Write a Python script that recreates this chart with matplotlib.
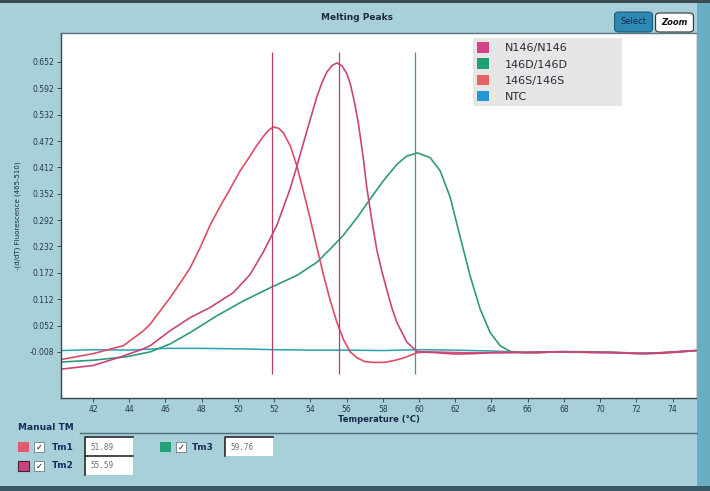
import matplotlib
matplotlib.use("Agg")
import matplotlib.pyplot as plt
from matplotlib.patches import Rectangle, FancyBboxPatch, Patch
from matplotlib.lines import Line2D

# ---------------- data ----------------
temp_146S = [40.3, 42.0, 43.67, 44.78, 45.15, 45.7, 46.25, 46.8, 47.36, 47.9, 48.46, 49.0, 49.57,
             50.12, 50.67, 51.04, 51.41, 51.7, 51.96, 52.25, 52.51, 52.9, 53.25, 53.6, 53.99,
             54.36, 54.72, 55.09, 55.46, 55.83, 56.2, 56.6, 57.0, 57.5, 58.04, 58.6, 59.14,
             59.88, 60.5, 61.5, 62.5, 63.5, 64.5, 65.5, 66.5, 67.5, 68.5, 69.5, 70.5, 71.5,
             72.5, 73.5, 74.5, 75.3]
vals_146S = [-0.025, -0.012, 0.006, 0.040, 0.055, 0.085, 0.115, 0.148, 0.183, 0.228, 0.280, 0.322,
             0.363, 0.404, 0.438, 0.462, 0.483, 0.497, 0.504, 0.501, 0.491, 0.460, 0.416, 0.360,
             0.295, 0.230, 0.168, 0.110, 0.060, 0.020, -0.008, -0.022, -0.030, -0.032, -0.032,
             -0.028, -0.022, -0.010, -0.008, -0.009, -0.010, -0.010, -0.009, -0.009, -0.010,
             -0.008, -0.008, -0.009, -0.009, -0.010, -0.012, -0.011, -0.008, -0.005]

temp_N146 = [40.3, 42.0, 43.49, 44.78, 45.15, 46.25, 47.36, 48.46, 49.75, 50.67, 51.41, 52.15,
             52.88, 53.25, 53.62, 54.0, 54.36, 54.65, 54.91, 55.2, 55.46, 55.75, 56.01, 56.2,
             56.43, 56.66, 56.9, 57.12, 57.4, 57.67, 57.95, 58.22, 58.5, 58.78, 59.33, 59.88,
             60.5, 61.0, 62.0, 63.0, 64.0, 65.0, 66.0, 67.0, 68.0, 69.0, 70.0, 71.0, 72.0,
             73.0, 74.0, 75.3]
vals_N146 = [-0.047, -0.039, -0.020, -0.001, 0.006, 0.040, 0.070, 0.093, 0.127, 0.168, 0.220, 0.280,
             0.363, 0.414, 0.468, 0.522, 0.573, 0.606, 0.629, 0.644, 0.650, 0.643, 0.626, 0.603,
             0.562, 0.510, 0.440, 0.365, 0.290, 0.224, 0.175, 0.134, 0.092, 0.059, 0.014, -0.007,
             -0.009, -0.010, -0.013, -0.012, -0.010, -0.010, -0.009, -0.008, -0.008, -0.009,
             -0.010, -0.010, -0.012, -0.011, -0.008, -0.005]

temp_146D = [40.3, 42.0, 43.86, 45.15, 46.25, 47.36, 48.83, 50.3, 51.78, 53.25, 54.36, 55.09,
             55.83, 56.57, 57.3, 58.04, 58.78, 59.33, 59.92, 60.62, 61.17, 61.72, 62.27, 62.83,
             63.38, 63.93, 64.48, 65.04, 65.77, 66.5, 67.5, 68.5, 69.5, 70.5, 71.5, 72.5, 73.5,
             74.5, 75.3]
vals_146D = [-0.031, -0.027, -0.019, -0.008, 0.010, 0.036, 0.074, 0.108, 0.138, 0.166, 0.196, 0.226,
             0.258, 0.297, 0.340, 0.382, 0.419, 0.438, 0.445, 0.434, 0.404, 0.344, 0.254, 0.164,
             0.089, 0.036, 0.006, -0.007, -0.010, -0.010, -0.008, -0.009, -0.008, -0.009, -0.011,
             -0.012, -0.010, -0.007, -0.005]

temp_NTC = [40.3, 42, 44, 46, 48, 50, 52, 54, 56, 58, 60, 62, 64, 66, 68, 70, 72, 74, 75.3]
vals_NTC = [-0.005, -0.003, -0.004, 0.000, 0.000, -0.001, -0.003, -0.004, -0.004, -0.005, -0.003,
            -0.004, -0.006, -0.009, -0.007, -0.008, -0.011, -0.009, -0.005]

tm_labels = ["Tm1", "Tm2", "Tm3"]
tm_values = [51.89, 55.59, 59.76]

legend_labels = ["N146/N146", "146D/146D", "146S/146S", "NTC"]
x_ticks = [42, 44, 46, 48, 50, 52, 54, 56, 58, 60, 62, 64, 66, 68, 70, 72, 74]
y_ticks = [0.652, 0.592, 0.532, 0.472, 0.412, 0.352, 0.292, 0.232, 0.172, 0.112, 0.052, -0.008]

# ---------------- styles ----------------
W, H = 710, 491
BG = "#a7d0d9"
c_red, c_pink, c_green, c_ntc = "#e04c66", "#c8447f", "#2f9a78", "#2aa2b4"
leg_colors = ["#d8408a", "#1fa070", "#e86060", "#2098d8"]
vline_colors = ["#b8405c", "#b04070", "#3a9a88"]

fig = plt.figure(figsize=(W / 100, H / 100), dpi=100, facecolor=BG)


def fx(px):
    return px / W


def fy(py):
    return 1 - py / H


def frect(px0, py0, px1, py1, **kw):
    r = Rectangle((fx(px0), fy(py1)), fx(px1) - fx(px0), fy(py0) - fy(py1),
                  transform=fig.transFigure, **kw)
    fig.add_artist(r)
    return r


# frame decorations
frect(0, 0, 710, 3, facecolor="#3c4a52", edgecolor="none")
frect(697, 3, 710, 486, facecolor="#6aaec4", edgecolor="none")
frect(0, 486, 710, 491, facecolor="#3a5866", edgecolor="none")

# ---------------- axes ----------------
ax = fig.add_axes([fx(61), fy(398), fx(697) - fx(61), fy(33) - fy(398)])
ax.set_facecolor("white")
ax.set_xlim(40.23, 75.35)
ax.set_ylim(-0.113, 0.718)

kw = dict(solid_joinstyle="round", solid_capstyle="round")
ax.plot(temp_NTC, vals_NTC, color=c_ntc, lw=1.1, **kw)
ax.plot(temp_146D, vals_146D, color=c_green, lw=1.2, **kw)
ax.plot(temp_146S, vals_146S, color=c_red, lw=1.2, **kw)
ax.plot(temp_N146, vals_N146, color=c_pink, lw=1.2, **kw)

for t, c in zip(tm_values, vline_colors):
    ax.vlines(t, -0.058, 0.675, color=c, lw=0.9)

ax.set_xticks(x_ticks)
ax.set_xticklabels([str(v) for v in x_ticks])
ax.set_yticks(y_ticks)
ax.set_yticklabels([f"{v:.3f}" for v in y_ticks])
ax.tick_params(axis="both", labelsize=5.5, colors="#2a3a4a", length=3, width=0.6, pad=2)
for s in ["left", "bottom", "right"]:
    ax.spines[s].set_color("#3a4650")
    ax.spines[s].set_linewidth(1.0)
ax.spines["top"].set_color("#5a7480")
ax.spines["top"].set_linewidth(1.0)

ax.set_xlabel("Temperature (°C)", fontsize=6, fontweight="bold", color="#1a2a4a", labelpad=1)
ax.set_ylabel("-(d/dT) Fluorescence (465-510)", fontsize=5, color="#1a2a4a", labelpad=6)

handles = [Patch(facecolor=c, edgecolor="none") for c in leg_colors]
leg = ax.legend(handles, legend_labels, loc="upper left",
                bbox_to_anchor=(0.648, 0.808, 0.234, 0.177), mode="expand",
                fontsize=8, frameon=True, fancybox=False, handlelength=1.1, handleheight=1.1,
                handletextpad=1.4, labelspacing=0.45, borderpad=0.35, borderaxespad=0)
leg.get_frame().set_facecolor("#e6e6e6")
leg.get_frame().set_edgecolor("none")
leg.get_frame().set_alpha(1)
for t in leg.get_texts():
    t.set_color("#2a2a3a")

# ---------------- header ----------------
fig.text(fx(357), fy(18), "Melting Peaks", fontsize=6.5, fontweight="bold", color="#1e2a44",
         ha="center", va="center")
b1 = FancyBboxPatch((fx(616), fy(31)), fx(651) - fx(616), fy(13) - fy(31),
                    boxstyle="round,pad=0.002,rounding_size=0.006", transform=fig.transFigure,
                    facecolor="#2e88b2", edgecolor="#1c5a7a", lw=0.8)
fig.add_artist(b1)
fig.text(fx(633.5), fy(22), "Select", fontsize=6, color="#0e2e50", ha="center", va="center")
b2 = FancyBboxPatch((fx(657), fy(31)), fx(692) - fx(657), fy(14) - fy(31),
                    boxstyle="round,pad=0.002,rounding_size=0.006", transform=fig.transFigure,
                    facecolor="white", edgecolor="#333333", lw=0.8)
fig.add_artist(b2)
fig.text(fx(674.5), fy(22.5), "Zoom", fontsize=6, fontweight="bold", fontstyle="italic",
         color="#111111", ha="center", va="center")

# ---------------- bottom panel ----------------
navy = "#1a2a5c"
fig.text(fx(18), fy(428), "Manual TM", fontsize=6.5, fontweight="bold", color=navy,
         ha="left", va="center")
fig.add_artist(Line2D([fx(80), fx(697)], [fy(433), fy(433)], transform=fig.transFigure,
                      color="#4e6e7c", lw=1.0))

rows = [
    # (square px, row py, color, edge, label, value, text px, box px)
    (18, 447, "#e45a6c", "none", tm_labels[0], tm_values[0], 52, 85),
    (18, 466, "#c8447f", "#4a2030", tm_labels[1], tm_values[1], 52, 85),
    (160, 447, "#23a077", "none", tm_labels[2], tm_values[2], 192, 225),
]
for sq, py, col, ec, lab, val, tx, bx in rows:
    frect(sq, py - 5, sq + 11, py + 5, facecolor=col, edgecolor=ec, lw=0.8)
    frect(sq + 16, py - 5, sq + 26, py + 5, facecolor="white", edgecolor="#5a6a70", lw=0.5)
    fig.text(fx(sq + 21), fy(py), "✓", fontsize=6, color="#111111", ha="center", va="center",
             fontweight="bold")
    fig.text(fx(tx), fy(py), lab, fontsize=6.5, fontweight="bold", color=navy,
             ha="left", va="center")
    frect(bx, py - 10, bx + 48, py + 9, facecolor="white", edgecolor="none")
    fig.add_artist(Line2D([fx(bx), fx(bx), fx(bx + 48)], [fy(py + 9), fy(py - 10), fy(py - 10)],
                          transform=fig.transFigure, color="#2a2a2a", lw=1.2))
    fig.text(fx(bx + 5), fy(py), f"{val:.2f}", fontsize=5.5, family="DejaVu Sans Mono",
             color="#6a7080", ha="left", va="center")

fig.savefig("out.png", dpi=100, facecolor=BG)
